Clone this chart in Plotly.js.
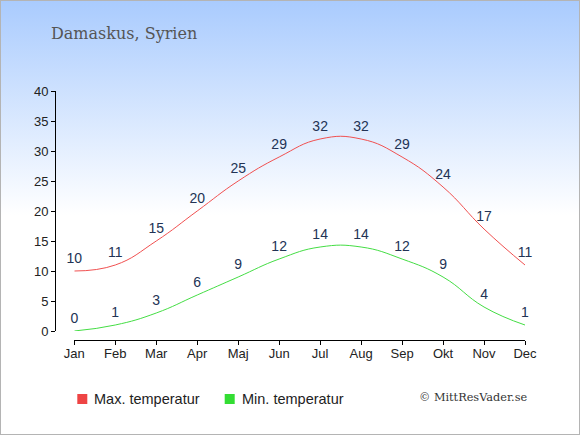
<!DOCTYPE html>
<html>
<head>
<meta charset="utf-8">
<script src="https://cdn.plot.ly/plotly-3.0.1.min.js"></script>
<style>
  html, body { margin: 0; padding: 0; background: #fff; }
  #wrap { position: relative; width: 580px; height: 435px;
          background: linear-gradient(to bottom, #a9cbfe 0px, #ffffff 215px, #ffffff 435px); }
  #chart { position: absolute; left: 0; top: 0; width: 580px; height: 435px; }
  #frame { position: absolute; left: 0; top: 0; width: 580px; height: 435px;
           box-sizing: border-box; border: 1px solid #b4b4b4; pointer-events: none; }
</style>
</head>
<body>
<div id="wrap"><div id="chart"></div><div id="frame"></div></div>
<script>
// ---- data ----
const chartTitle = 'Damaskus, Syrien';
const months = ['Jan','Feb','Mar','Apr','Maj','Jun','Jul','Aug','Sep','Okt','Nov','Dec'];
const maxTemp = [10, 11, 15, 20, 25, 29, 32, 32, 29, 24, 17, 11];
const minTemp = [0, 1, 3, 6, 9, 12, 14, 14, 12, 9, 4, 1];
const seriesNames = ['Max. temperatur', 'Min. temperatur'];
const yTicks = [0, 5, 10, 15, 20, 25, 30, 35, 40];
const copyrightText = '\u00A9 MittResVader.se';

// ---- styles ----
const redLine = '#f05050', greenLine = '#44dd44';
const redBox = '#ee4444', greenBox = '#33dd33';
const labelColor = '#223355';
const sans = 'Liberation Sans, Arial, sans-serif';
const serif = 'DejaVu Serif, serif';

// plot-area geometry (pixels)
const PL = 55, PR = 55, PT = 91, PB = 95;
const PW = 580 - PL - PR, PH = 435 - PT - PB;
const px = v => (v - PL) / PW;
const py = v => (PT + PH - v) / PH;

function lineTrace(vals, color) {
  return { x: months, y: vals, type: 'scatter', mode: 'lines',
    line: { color: color, width: 1, shape: 'spline', smoothing: 1.3 },
    hoverinfo: 'skip', showlegend: false, cliponaxis: false };
}
function labelTrace(vals) {
  return { x: months, y: vals, type: 'scatter', mode: 'markers+text',
    marker: { size: 6, color: 'rgba(0,0,0,0)' },
    text: vals.map(String), textposition: 'top center',
    textfont: { family: sans, size: 14, color: labelColor },
    hoverinfo: 'skip', showlegend: false, cliponaxis: false };
}

const data = [lineTrace(maxTemp, redLine), lineTrace(minTemp, greenLine),
              labelTrace(maxTemp), labelTrace(minTemp)];

const axisCommon = {
  showline: true, linecolor: '#000', linewidth: 1,
  ticks: 'outside', ticklen: 4, tickcolor: '#000', tickwidth: 1,
  showgrid: false, zeroline: false, fixedrange: true,
  tickfont: { family: sans, size: 13, color: '#222' }
};

const legendX = [77.3, 224.7];
const legendCols = [redBox, greenBox];
const shapes = seriesNames.map((n, i) => ({
  type: 'rect', xref: 'paper', yref: 'paper',
  x0: px(legendX[i]), x1: px(legendX[i] + 10), y0: py(404), y1: py(394),
  fillcolor: legendCols[i], line: { width: 0 }
}));
const annotations = seriesNames.map((n, i) => ({
  text: n, xref: 'paper', yref: 'paper', x: px(legendX[i] + 16), y: py(399),
  xanchor: 'left', yanchor: 'middle', showarrow: false, borderpad: 0,
  font: { family: sans, size: 14.5, color: '#222' }
}));
annotations.push({
  text: copyrightText, xref: 'paper', yref: 'paper', x: px(418), y: py(397),
  xanchor: 'left', yanchor: 'middle', showarrow: false, borderpad: 0,
  font: { family: serif, size: 11.3, color: '#333' }
});

const layout = {
  width: 580, height: 435,
  margin: { l: PL, r: PR, t: PT, b: PB, pad: 0 },
  paper_bgcolor: 'rgba(0,0,0,0)', plot_bgcolor: 'rgba(0,0,0,0)',
  title: { text: chartTitle, x: 51 / 580, xanchor: 'left', y: 1 - 33 / 435, yanchor: 'middle',
           font: { family: serif, size: 16, color: '#555' } },
  xaxis: Object.assign({}, axisCommon, {
    type: 'category', range: [0, 11], domain: [19.3 / PW, 1],
    anchor: 'free', position: 0, ticklabelstandoff: -3
  }),
  yaxis: Object.assign({}, axisCommon, {
    range: [0, 40], tickvals: yTicks, domain: [9 / PH, 1],
    anchor: 'free', position: 0
  }),
  shapes: shapes, annotations: annotations,
  showlegend: false, hovermode: false
};

Plotly.newPlot('chart', data, layout, { displayModeBar: false, staticPlot: true });
</script>
</body>
</html>
